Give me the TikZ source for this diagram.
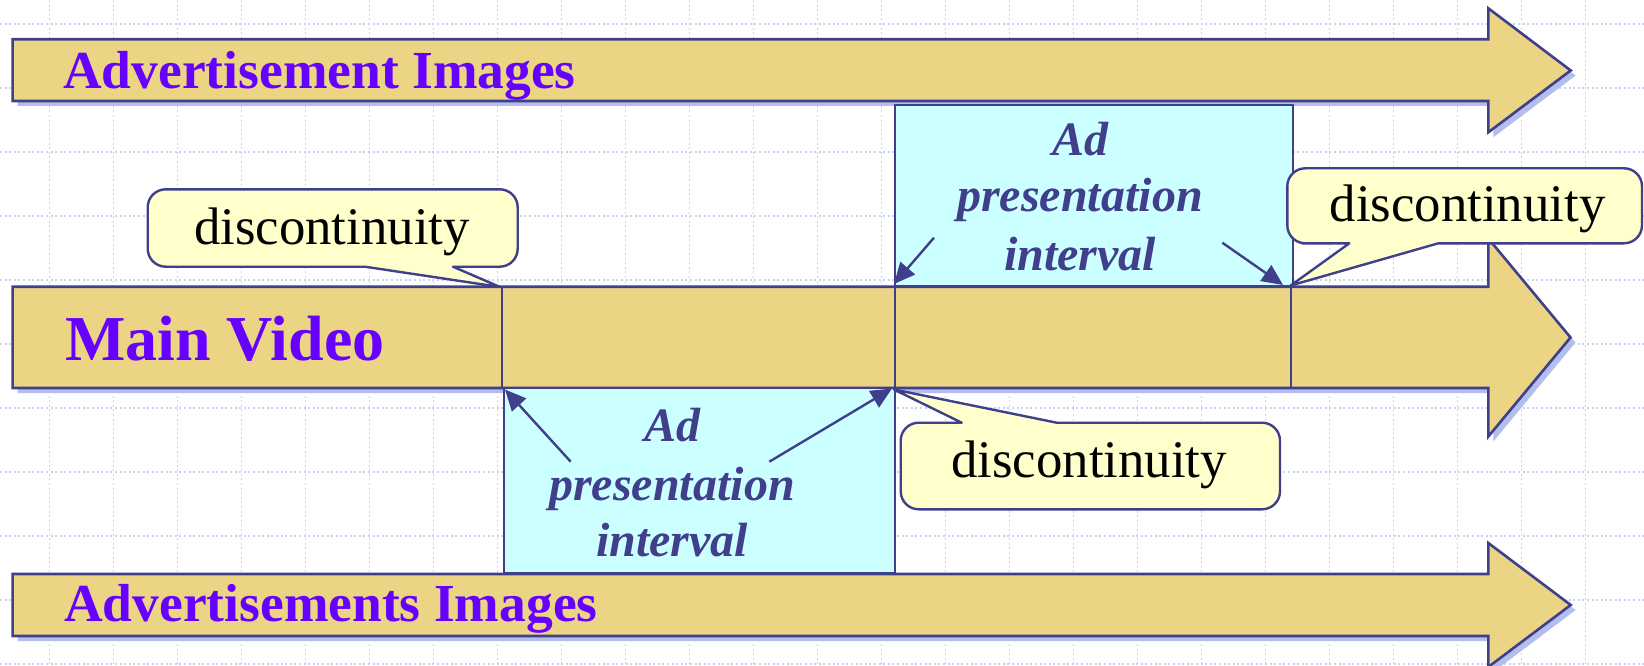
\documentclass[tikz,border=0pt]{standalone}
\usepackage{fontspec}
\setmainfont{Liberation Serif}
\usetikzlibrary{arrows.meta}
\definecolor{gold}{HTML}{EBD584}
\definecolor{navy}{HTML}{3F3F8C}
\definecolor{shad}{HTML}{B4BEEC}
\definecolor{cyanbg}{HTML}{CCFFFF}
\definecolor{callbg}{HTML}{FFFFCC}
\definecolor{purp}{HTML}{6600FF}
\definecolor{gridc}{HTML}{C8D4F6}
\begin{document}
\begin{tikzpicture}[x=1pt,y=-1pt,
  gridline/.style={draw=gridc,line width=1.4pt,dash pattern=on 2pt off 2.6pt},
  bigarrow/.style={fill=gold,draw=navy,line width=2.6pt,line join=miter},
  shadowfill/.style={fill=shad},
  cbox/.style={fill=cyanbg,draw=navy,line width=2.6pt},
  calloutbox/.style={fill=callbg,draw=navy,line width=2.4pt,line join=round},
  divider/.style={draw=navy,line width=2.6pt},
  lbl/.style={font=\fontsize{53.5}{60}\selectfont\bfseries,text=purp,inner sep=0pt,anchor=base west},
  mainlbl/.style={font=\fontsize{64}{70}\selectfont\bfseries,text=purp,inner sep=0pt,anchor=base west},
  disc/.style={font=\fontsize{52.8}{60}\selectfont,text=black,inner sep=0pt,anchor=base},
  adtxt/.style={font=\fontsize{48}{56}\selectfont\bfseries\itshape,text=navy,inner sep=0pt,anchor=base},
  conn/.style={draw=navy,line width=2.4pt,-{Triangle[length=21pt,width=19pt]}}
]
\useasboundingbox (0,0) rectangle (1644,666);
% grid
\foreach \i in {0,...,24} { \draw[gridline] (49.5+64*\i,0) -- (49.5+64*\i,666); }
\foreach \j in {0,...,10} { \draw[gridline] (0,24+64*\j) -- (1644,24+64*\j); }

% shadows
\begin{scope}[shift={(5,5)}]
\fill[shadowfill] (12.6,39.3) -- (1488.3,39.3) -- (1488.3,8.3) -- (1570.7,70.5) -- (1488.3,132.3) -- (1488.3,101) -- (12.6,101) -- cycle;
\fill[shadowfill] (12.6,286.7) -- (1488.3,286.7) -- (1488.3,238.5) -- (1570.5,337.5) -- (1488.3,436.5) -- (1488.3,388) -- (12.6,388) -- cycle;
\fill[shadowfill] (12.6,574) -- (1488.3,574) -- (1488.3,543) -- (1570.7,605) -- (1488.3,667) -- (1488.3,636) -- (12.6,636) -- cycle;
\end{scope}

% gold arrows
\draw[bigarrow] (12.6,39.3) -- (1488.3,39.3) -- (1488.3,8.3) -- (1570.7,70.5) -- (1488.3,132.3) -- (1488.3,101) -- (12.6,101) -- cycle;
\draw[bigarrow] (12.6,286.7) -- (1488.3,286.7) -- (1488.3,238.5) -- (1570.5,337.5) -- (1488.3,436.5) -- (1488.3,388) -- (12.6,388) -- cycle;
\draw[bigarrow] (12.6,574) -- (1488.3,574) -- (1488.3,543) -- (1570.7,605) -- (1488.3,667) -- (1488.3,636) -- (12.6,636) -- cycle;

% dividers of main video
\coordinate (d1t) at (502,286.7); \coordinate (d1b) at (502,388);
\coordinate (d2t) at (895,286.7); \coordinate (d2b) at (895,388);
\coordinate (d3t) at (1291,286.7); \coordinate (d3b) at (1291,388);
\draw[divider] (d1t) -- (d1b);
\draw[divider] (d2t) -- (d2b);
\draw[divider] (d3t) -- (d3b);

% cyan boxes
\draw[cbox] (895,105) rectangle (1293,286.7);
\draw[cbox] (504,388) rectangle (895,573);

% callouts
\draw[calloutbox] (480,266.7) [rounded corners=18pt] -- (517.7,266.7) -- (517.7,189.3) -- (147.7,189.3) -- (147.7,266.7) -- (300,266.7) [sharp corners] -- (365,266.7) -- (500,287) -- (453,266.7) -- cycle;
\draw[calloutbox] (1500,243.3) [rounded corners=18pt] -- (1642,243.3) -- (1642,168.3) -- (1287.3,168.3) -- (1287.3,243.3) -- (1320,243.3) [sharp corners] -- (1349.3,243.3) -- (1290.7,285.5) -- (1438.3,243.3) -- cycle;
\draw[calloutbox] (930,422.7) [rounded corners=18pt] -- (900.7,422.7) -- (900.7,509.3) -- (1280,509.3) -- (1280,422.7) -- (1100,422.7) [sharp corners] -- (1056.7,422.7) -- (894,389.5) -- (961.7,422.7) -- cycle;

% connectors inside cyan boxes
\coordinate (a1s) at (934,237.7); \coordinate (a1e) at (894,284);
\coordinate (a2s) at (1222.3,242.7); \coordinate (a2e) at (1283,285);
\coordinate (a3s) at (570.7,461.7); \coordinate (a3e) at (505,389.5);
\coordinate (a4s) at (769.3,461.7); \coordinate (a4e) at (892,388.5);
\draw[conn] (a1s) -- (a1e);
\draw[conn] (a2s) -- (a2e);
\draw[conn] (a3s) -- (a3e);
\draw[conn] (a4s) -- (a4e);

% texts
\node[lbl] (adtop) at (63,88.3) {Advertisement Images};
\node[lbl] (adbot) at (64,621.7) {Advertisements Images};
\node[mainlbl] (mainv) at (65,360) {Main Video};
\node[disc] (disc1) at (332,244) {discontinuity};
\node[disc] (disc2) at (1467.5,221.7) {discontinuity};
\node[disc] (disc3) at (1089,477.3) {discontinuity};
\node[adtxt] (ta1) at (1080,155.7) {Ad};
\node[adtxt] (ta2) at (1080,211.7) {presentation};
\node[adtxt] (ta3) at (1080,270) {interval};
\node[adtxt] (ba1) at (672,441.7) {Ad};
\node[adtxt] (ba2) at (672,500) {presentation};
\node[adtxt] (ba3) at (672,556) {interval};
\end{tikzpicture}
\end{document}
